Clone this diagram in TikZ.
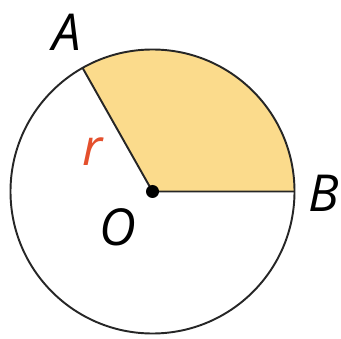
\documentclass[tikz,border=0pt]{standalone}
\usepackage{fontspec}
\setmainfont{Open Sans}
\usetikzlibrary{calc}
\definecolor{sectorfill}{RGB}{251,219,140}
\definecolor{rlabel}{RGB}{228,80,45}

\begin{document}
\begin{tikzpicture}[x=0.02cm,y=0.02cm,
  lbl/.style={font=\fontsize{29}{33}\selectfont\itshape,inner sep=0pt},
  rim/.style={line width=1.1pt,draw=black!85}]
\useasboundingbox (0,0) rectangle (341,338);
\coordinate (O) at (152.5,146.5);
\coordinate (A) at ($(O)+(119.5:142)$);
\coordinate (B) at ($(O)+(0:142)$);
% shaded sector
\fill[sectorfill] (O) -- (B) arc[start angle=0,end angle=119.5,radius=142] -- cycle;
\draw[rim] (O) circle[radius=142];
\draw[rim] (A) -- (O) -- (B);
\fill (O) circle[radius=6.5];
\node[lbl] (la) at (67,306) {A};
\node[lbl] (lb) at (324,145) {B};
\node[lbl] (lo) at (118,111) {O};
\node[lbl,text=rlabel] (lr) at (93,186) {r};
\end{tikzpicture}
\end{document}
